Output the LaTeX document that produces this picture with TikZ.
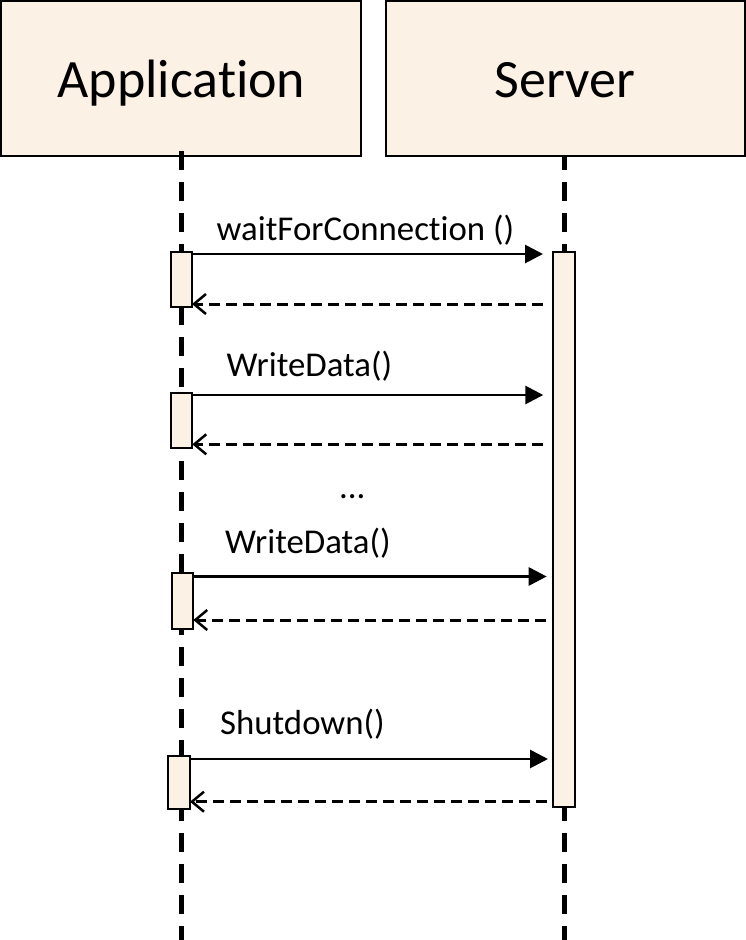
\documentclass[tikz,border=0pt]{standalone}
\usepackage{fontspec}
\setmainfont[Ligatures={NoCommon,NoDiscretionary,NoRare}]{Carlito}
\usetikzlibrary{arrows.meta}
\definecolor{boxfill}{HTML}{FBF1E4}
\begin{document}
\begin{tikzpicture}[x=1pt,y=-1pt,
  objbox/.style={draw=black,line width=2pt,fill=boxfill,inner sep=0pt},
  actbox/.style={draw=black,line width=2pt,fill=boxfill,inner sep=0pt,minimum width=21.5pt},
  lifeline/.style={line width=5pt,dash pattern=on 19pt off 12pt},
  callarrow/.style={line width=2.8pt,-{Triangle[length=18pt,width=18pt]}},
  retarrow/.style={line width=3pt,dash pattern=on 11pt off 6pt,-{Straight Barb[length=12pt,width=20pt,line width=2.5pt]}},
  lbl/.style={font=\fontsize{34.8}{40}\selectfont,inner sep=0pt,anchor=base west},
  title/.style={font=\fontsize{54}{60}\selectfont,inner sep=0pt,anchor=base}]
\useasboundingbox (0,0) rectangle (746,940);
% server lifeline (behind its box)
\coordinate (srvTop) at (564.5,151);
\coordinate (srvBot) at (564.5,945);
\draw[lifeline] (srvTop) -- (srvBot);
% object boxes
\node[objbox,minimum width=360pt,minimum height=155pt] (app) at (181,78.5) {};
\node[objbox,minimum width=359pt,minimum height=155pt] (srv) at (565.5,78.5) {};
\node[title] (apptxt) at (181.5,97.3) {Application};
\node[title] (srvtxt) at (565,97.3) {Server};
% application lifeline
\coordinate (appTop) at (181.3,151);
\coordinate (appBot) at (181.3,945);
\draw[lifeline] (appTop) -- (appBot);
% activations
\node[actbox,minimum height=55pt] (a1) at (181.5,279.2) {};
\node[actbox,minimum height=55pt] (a2) at (181.7,420.8) {};
\node[actbox,minimum height=56pt] (a3) at (182.5,601.3) {};
\node[actbox,minimum height=53pt] (a4) at (179.2,782.7) {};
\node[actbox,minimum height=554.7pt] (s) at (564.2,529.3) {};
% message end points
\coordinate (m1a) at (192,254);   \coordinate (m1b) at (543,254);
\coordinate (r1a) at (543,304);   \coordinate (r1b) at (192,304);
\coordinate (m2a) at (192.3,395); \coordinate (m2b) at (543.3,395);
\coordinate (r2a) at (543,444.3); \coordinate (r2b) at (192.3,444.3);
\coordinate (m3a) at (193.3,576.5); \coordinate (m3b) at (546.7,576.5);
\coordinate (r3a) at (546,620);   \coordinate (r3b) at (193.3,620);
\coordinate (m4a) at (190,759);   \coordinate (m4b) at (548,759);
\coordinate (r4a) at (547,801.7); \coordinate (r4b) at (190,801.7);
\draw[callarrow] (m1a) -- (m1b);
\draw[retarrow] (r1a) -- (r1b);
\draw[callarrow] (m2a) -- (m2b);
\draw[retarrow] (r2a) -- (r2b);
\draw[callarrow] (m3a) -- (m3b);
\draw[retarrow] (r3a) -- (r3b);
\draw[callarrow] (m4a) -- (m4b);
\draw[retarrow] (r4a) -- (r4b);
% labels
\node[lbl] (l1) at (216.5,240) {waitForConnection ()};
\node[lbl] (l2) at (226.5,376.7) {WriteData()};
\node[lbl] (dots) at (339,498.3) {...};
\node[lbl] (l3) at (225,553.3) {WriteData()};
\node[lbl] (l4) at (220,734) {Shutdown()};
\end{tikzpicture}
\end{document}
